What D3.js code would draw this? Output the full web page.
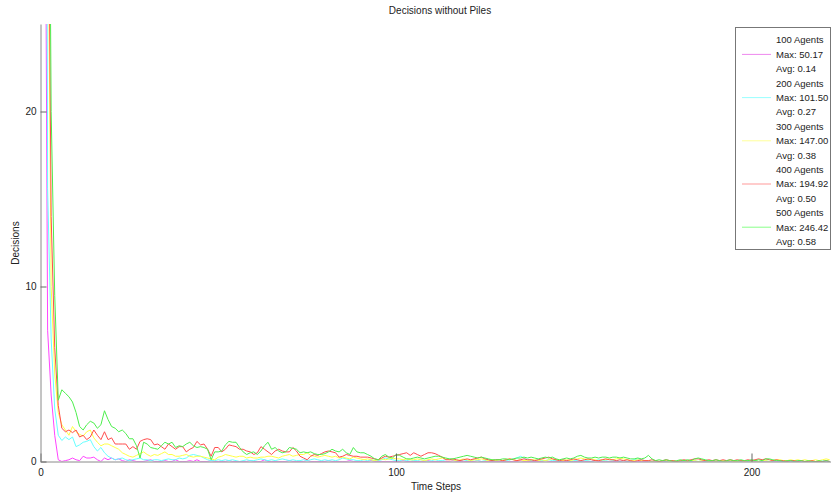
<!DOCTYPE html>
<html>
<head>
<meta charset="utf-8">
<script src="https://cdn.jsdelivr.net/npm/d3@7"></script>
<style>
  body { margin: 0; background: #fff; }
  svg { font-family: "Liberation Sans", Arial, sans-serif; }
</style>
</head>
<body>
<script>
//////////////////////
// DATA (time steps start at 1)
const labels = ["100 Agents", "200 Agents", "300 Agents", "400 Agents", "500 Agents"];
const maxes = ["50.17", "101.50", "147.00", "194.92", "246.42"];
const avgs = ["0.14", "0.27", "0.38", "0.50", "0.58"];
const colors = ["#ff44ff", "#66ffff", "#ffff44", "#ff4d4d", "#4dee4d"];
const legendColors = ["#ee88ee", "#99ffff", "#ffff99", "#ff9999", "#88ff88"];
const xTicks = [0, 100, 200];
const yTicks = [0, 10, 20];

const agents100 = [
  50.17, 7.5, 3.8, 1.5, 0.1, 0, 0.05, 0.1, 0.2, 0.1,
  0.05, 0.3, 0.2, 0.2, 0.25, 0.1, 0, 0.2, 0.1, 0.2,
  0.1, 0.15, 0.05, 0, 0.1, 0.05, 0, 0, 0, 0.05,
  0.1, 0, 0, 0, 0.05, 0, 0, 0.1, 0, 0,
  0, 0.05, 0, 0.1, 0, 0, 0, 0.05, 0, 0,
  0, 0, 0.05, 0, 0, 0, 0, 0, 0.05, 0,
  0, 0, 0.1, 0, 0, 0, 0, 0, 0, 0.05,
  0, 0, 0, 0, 0.05, 0, 0, 0, 0, 0,
  0.05, 0, 0, 0, 0, 0, 0.05, 0, 0, 0,
  0, 0, 0.05, 0, 0, 0, 0, 0, 0, 0,
  0, 0.05, 0, 0, 0, 0, 0, 0, 0.05, 0,
  0, 0, 0, 0, 0, 0.05, 0, 0, 0, 0,
  0, 0, 0.05, 0, 0, 0, 0, 0, 0, 0,
  0, 0, 0, 0, 0.05, 0, 0, 0, 0, 0,
  0, 0.05, 0, 0, 0, 0, 0, 0, 0, 0,
  0, 0, 0, 0, 0, 0.05, 0, 0, 0, 0,
  0, 0, 0, 0.05, 0, 0, 0, 0, 0, 0,
  0, 0, 0, 0, 0, 0, 0.05, 0, 0, 0,
  0, 0, 0, 0, 0, 0, 0, 0, 0, 0,
  0, 0.05, 0, 0, 0, 0, 0, 0, 0, 0,
  0, 0, 0, 0, 0, 0, 0, 0, 0, 0,
  0, 0, 0, 0, 0, 0, 0, 0, 0, 0, 0, 0
];
const agents200 = [
  101.5, 15.6, 7, 3, 1.5, 1.2, 1.4, 1.25, 1.4, 0.85,
  0.95, 1.1, 1.15, 1.25, 0.85, 0.6, 0.8, 0.5, 0.3, 0.2,
  0.1, 0.15, 0.2, 0.1, 0.05, 0.1, 0.15, 0.2, 0.1, 0.1,
  0.05, 0.1, 0.1, 0.05, 0.1, 0.15, 0.1, 0.1, 0.2, 0.15,
  0.2, 0.35, 0.4, 0.35, 0.3, 0.2, 0.1, 0.05, 0.05, 0.1,
  0.05, 0.1, 0.05, 0.1, 0.05, 0, 0.05, 0.1, 0.05, 0.05,
  0.1, 0.15, 0.1, 0.05, 0.1, 0.05, 0.1, 0.15, 0.1, 0.05,
  0.1, 0.05, 0.05, 0.1, 0.05, 0.1, 0.15, 0.1, 0.05, 0.1,
  0.05, 0.1, 0.05, 0.1, 0.2, 0.15, 0.1, 0.1, 0.05, 0.05,
  0.1, 0.05, 0.1, 0.05, 0.05, 0.1, 0.2, 0.15, 0.1, 0.05,
  0.05, 0.1, 0.05, 0.1, 0.05, 0.05, 0.1, 0.05, 0, 0.05,
  0.1, 0.05, 0.05, 0.1, 0.15, 0.1, 0.05, 0.05, 0.1, 0.05,
  0.05, 0.1, 0.05, 0, 0.05, 0.1, 0.05, 0.05, 0.1, 0.05,
  0.05, 0.1, 0.15, 0.2, 0.3, 0.2, 0.1, 0.05, 0.05, 0.1,
  0.05, 0.05, 0.1, 0.05, 0.05, 0, 0.05, 0.05, 0, 0.05,
  0.05, 0, 0.05, 0.05, 0, 0.05, 0.1, 0.05, 0.05, 0,
  0.05, 0.05, 0, 0.05, 0, 0.05, 0.1, 0.15, 0.1, 0.05,
  0.05, 0, 0.05, 0, 0.05, 0, 0, 0.05, 0, 0,
  0.05, 0, 0, 0.05, 0, 0.05, 0, 0, 0.05, 0,
  0, 0.05, 0, 0, 0.05, 0, 0, 0.05, 0, 0,
  0.05, 0, 0, 0.05, 0, 0, 0.05, 0, 0, 0.05,
  0, 0, 0.05, 0, 0, 0.05, 0, 0, 0, 0.05, 0, 0
];
const agents300 = [
  147.0, 35, 10, 5, 2.8, 2.1, 1.8, 1.5, 2.0, 1.7,
  1.55, 1.45, 1.7, 1.8, 1.35, 1.1, 0.9, 1.0, 1.0, 0.9,
  0.8, 0.7, 0.5, 0.4, 0.3, 0.25, 0.35, 0.45, 0.55, 0.4,
  0.3, 0.4, 0.35, 0.45, 0.55, 0.4, 0.4, 0.3, 0.3, 0.35,
  0.4, 0.3, 0.25, 0.3, 0.3, 0.25, 0.2, 0.15, 0.1, 0.25,
  0.3, 0.4, 0.35, 0.3, 0.25, 0.3, 0.3, 0.2, 0.25, 0.2,
  0.2, 0.25, 0.25, 0.3, 0.3, 0.25, 0.2, 0.3, 0.35, 0.4,
  0.3, 0.35, 0.4, 0.4, 0.5, 0.35, 0.3, 0.25, 0.3, 0.35,
  0.3, 0.25, 0.3, 0.2, 0.25, 0.2, 0.15, 0.25, 0.2, 0.15,
  0.1, 0.15, 0.1, 0.05, 0.1, 0.15, 0.1, 0.15, 0.2, 0.15,
  0.15, 0.1, 0.15, 0.1, 0.1, 0.15, 0.1, 0.05, 0.1, 0.15,
  0.1, 0.15, 0.2, 0.15, 0.1, 0.1, 0.05, 0.1, 0.15, 0.1,
  0.05, 0.1, 0.1, 0.15, 0.1, 0.05, 0.1, 0.05, 0.1, 0.05,
  0.1, 0.15, 0.1, 0.05, 0.1, 0.05, 0.05, 0.1, 0.1, 0.05,
  0.1, 0.05, 0.1, 0.15, 0.1, 0.1, 0.05, 0.1, 0.05, 0.1,
  0.15, 0.2, 0.15, 0.1, 0.15, 0.1, 0.05, 0.1, 0.1, 0.15,
  0.1, 0.15, 0.2, 0.15, 0.1, 0.05, 0.05, 0.1, 0.05, 0.05,
  0.05, 0, 0.05, 0, 0.05, 0.05, 0, 0.05, 0, 0.05,
  0.05, 0, 0.05, 0.05, 0, 0.05, 0.05, 0, 0.05, 0,
  0.05, 0.05, 0, 0.05, 0, 0, 0.05, 0, 0.05, 0,
  0.05, 0, 0.05, 0.05, 0, 0.05, 0.1, 0.1, 0.05, 0.05,
  0.1, 0.05, 0.1, 0.05, 0.1, 0.05, 0.05, 0.1, 0.05, 0.1, 0.15, 0.1
];
const agents400 = [
  194.92, 40, 14, 6.5, 3.2, 1.9, 1.7, 1.8, 1.65, 1.8,
  1.4, 1.5, 1.25, 1.4, 1.8, 1.5, 1.25, 1.7, 1.25, 1.35,
  1.0, 1.0, 1.0, 1.0, 0.7, 0.85, 0.7, 1.15, 1.25, 1.3,
  1.25, 0.95, 1.0, 0.85, 0.7, 1.0, 0.85, 0.7, 0.85, 0.85,
  0.55, 0.7, 0.8, 1.15, 0.95, 1.0, 0.7, 0.3, 0.8, 0.8,
  0.55, 0.7, 0.95, 0.9, 0.85, 0.7, 0.7, 0.6, 0.55, 0.4,
  0.5, 0.85, 0.7, 0.55, 0.4, 0.6, 0.7, 0.6, 0.55, 0.55,
  0.8, 0.6, 0.3, 0.2, 0.1, 0.3, 0.4, 0.35, 0.45, 0.55,
  0.6, 0.55, 0.5, 0.25, 0.3, 0.4, 0.35, 0.3, 0.3, 0.25,
  0.25, 0.25, 0.2, 0.15, 0.1, 0.2, 0.3, 0.25, 0.3, 0.35,
  0.4, 0.45, 0.5, 0.35, 0.5, 0.4, 0.3, 0.4, 0.5, 0.5,
  0.45, 0.35, 0.25, 0.1, 0.1, 0.15, 0.1, 0.05, 0.1, 0.15,
  0.1, 0.15, 0.2, 0.25, 0.15, 0.1, 0.05, 0.1, 0.1, 0.05,
  0.1, 0.15, 0.1, 0.05, 0.1, 0.15, 0.1, 0.1, 0.05, 0.1,
  0.15, 0.2, 0.25, 0.15, 0.1, 0.05, 0.1, 0.05, 0.1, 0.15,
  0.1, 0.05, 0.1, 0.15, 0.1, 0.05, 0.05, 0.1, 0.15, 0.1,
  0.1, 0.05, 0.1, 0.05, 0.1, 0.05, 0, 0.05, 0.1, 0.05,
  0.05, 0.1, 0.05, 0, 0.05, 0.1, 0.05, 0.05, 0, 0.05,
  0.1, 0.05, 0.1, 0.15, 0.15, 0.1, 0.05, 0.1, 0.05, 0.1,
  0.05, 0.1, 0.05, 0.1, 0.05, 0.1, 0.05, 0.05, 0.1, 0.05,
  0.1, 0.15, 0.1, 0.15, 0.1, 0.05, 0.1, 0.05, 0.05, 0,
  0.05, 0.05, 0, 0.05, 0, 0, 0.05, 0, 0, 0, 0.05, 0
];
const agents500 = [
  246.42, 50, 20, 9.5, 3.5, 4.1, 3.9, 3.7, 3.4, 2.8,
  2.0, 1.8, 2.1, 2.3, 2.2, 1.9, 2.1, 2.9, 2.4, 2.0,
  1.9, 1.7, 1.8, 1.6, 1.3, 1.3, 0.9, 0.2, 1.1, 1.0,
  0.8, 0.75, 0.7, 0.9, 1.1, 1.0, 1.1, 0.8, 0.9, 0.85,
  1.0, 1.1, 0.9, 0.8, 0.85, 0.8, 0.7, 0.1, 0.55, 0.55,
  0.6, 0.95, 1.15, 1.1, 1.1, 0.8, 0.55, 0.4, 0.5, 0.55,
  0.4, 0.6, 0.9, 1.1, 0.7, 0.8, 0.6, 0.5, 0.55, 0.8,
  0.75, 0.7, 0.5, 0.55, 0.5, 0.55, 0.45, 0.4, 0.4, 0.45,
  0.55, 0.7, 0.6, 0.55, 0.7, 0.5, 0.4, 0.8, 0.55, 0.5,
  0.5, 0.4, 0.3, 0.15, 0.1, 0.3, 0.4, 0.25, 0.2, 0.4,
  0.35, 0.25, 0.15, 0.15, 0.2, 0.25, 0.2, 0.15, 0.2, 0.25,
  0.3, 0.3, 0.25, 0.2, 0.15, 0.15, 0.2, 0.25, 0.3, 0.35,
  0.3, 0.25, 0.2, 0.25, 0.2, 0.15, 0.1, 0.1, 0.1, 0.15,
  0.15, 0.1, 0.15, 0.2, 0.2, 0.25, 0.2, 0.25, 0.2, 0.15,
  0.2, 0.25, 0.2, 0.25, 0.15, 0.1, 0.15, 0.2, 0.15, 0.2,
  0.3, 0.35, 0.25, 0.2, 0.2, 0.25, 0.2, 0.25, 0.25, 0.2,
  0.25, 0.25, 0.2, 0.25, 0.2, 0.15, 0.15, 0.2, 0.15, 0.2,
  0.35, 0.15, 0.05, 0.1, 0.05, 0.1, 0.05, 0, 0.05, 0.1,
  0.05, 0.1, 0.05, 0.15, 0.2, 0.15, 0.1, 0.05, 0.05, 0.1,
  0.05, 0, 0.05, 0.1, 0.05, 0.05, 0.1, 0.05, 0.05, 0.1,
  0.05, 0.1, 0.05, 0.15, 0.15, 0.1, 0.05, 0.05, 0, 0.05,
  0.05, 0, 0.05, 0.05, 0, 0.05, 0, 0, 0.05, 0, 0.05, 0
];
const series = [agents100, agents200, agents300, agents400, agents500];
//////////////////////

const w = 831;
const h = 496;
const margin = { left: 40.5, right: 831.5, top: 24, bottom: 461.5 };

let svg = d3.select("body")
  .append("svg")
  .attr("width", w)
  .attr("height", h);

// scales: MATLAB style, steps start at 1
let xScale = d3.scaleLinear().domain([0, 222.5]).range([margin.left, margin.right]);
let yScale = d3.scaleLinear().domain([0, 25]).range([margin.bottom, margin.top]);

svg.append("clipPath")
  .attr("id", "plotclip")
  .append("rect")
  .attr("x", margin.left)
  .attr("y", margin.top)
  .attr("width", margin.right - margin.left)
  .attr("height", margin.bottom - margin.top);

// the lines
let line = d3.line()
  .x((d, i) => xScale(i + 1))
  .y(d => yScale(d));

svg.append("g")
  .attr("clip-path", "url(#plotclip)")
  .selectAll("path")
  .data(series)
  .enter()
  .append("path")
  .attr("d", line)
  .attr("fill", "none")
  .attr("stroke", (d, i) => colors[i])
  .attr("stroke-width", 1);

// axes, ticks point inward
let xAxis = svg.append("g")
  .attr("transform", "translate(0," + margin.bottom + ")")
  .call(d3.axisBottom(xScale).tickValues(xTicks).tickSize(-8).tickSizeOuter(0).tickPadding(7));
let yAxis = svg.append("g")
  .attr("transform", "translate(" + margin.left + ",0)")
  .call(d3.axisLeft(yScale).tickValues(yTicks).tickSize(-6).tickSizeOuter(0).tickPadding(4));

[xAxis, yAxis].forEach(a => {
  a.select(".domain").attr("stroke", "#8a8a8a");
  a.selectAll(".tick line").attr("stroke", "#666");
  a.selectAll(".tick text")
    .attr("fill", "#222")
    .style("font-size", "10px")
    .style("font-family", "Liberation Sans, Arial, sans-serif");
});

// title and axis labels
svg.append("text")
  .attr("x", 440)
  .attr("y", 14)
  .attr("text-anchor", "middle")
  .attr("font-size", 10)
  .attr("fill", "#222")
  .text("Decisions without Piles");

svg.append("text")
  .attr("x", 436)
  .attr("y", 490)
  .attr("text-anchor", "middle")
  .attr("font-size", 10)
  .attr("fill", "#222")
  .text("Time Steps");

svg.append("text")
  .attr("transform", "translate(19,243) rotate(-90)")
  .attr("text-anchor", "middle")
  .attr("font-size", 10)
  .attr("fill", "#222")
  .text("Decisions");

// legend box
let legend = svg.append("g");
legend.append("rect")
  .attr("x", 735.5)
  .attr("y", 27.5)
  .attr("width", 95)
  .attr("height", 222)
  .attr("fill", "#fff")
  .attr("stroke", "#777");

const rowH = 14.4;
labels.forEach((lab, i) => {
  const rows = [lab, "Max: " + maxes[i], "Avg: " + avgs[i]];
  rows.forEach((r, j) => {
    legend.append("text")
      .attr("x", 776)
      .attr("y", 40 + (i * 3 + j) * rowH + 3.4)
      .attr("font-size", 9.5)
      .attr("fill", "#222")
      .text(r);
  });
  legend.append("line")
    .attr("x1", 742)
    .attr("x2", 771)
    .attr("y1", 40 + (i * 3 + 1) * rowH)
    .attr("y2", 40 + (i * 3 + 1) * rowH)
    .attr("stroke", legendColors[i])
    .attr("stroke-width", 1);
});
</script>
</body>
</html>
